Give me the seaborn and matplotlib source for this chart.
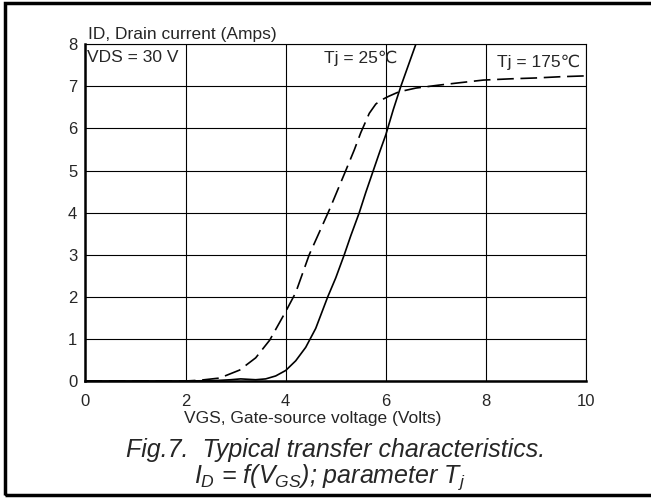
import matplotlib
matplotlib.use("Agg")
import matplotlib.pyplot as plt
import numpy as np
import pandas as pd
import seaborn as sns
from matplotlib.patches import Rectangle

# curve: Tj = 25 C (solid)
vgs_25 = [0, 1, 2, 2.6, 2.9, 3.1, 3.25, 3.4, 3.6, 3.8, 4.0, 4.2, 4.4, 4.6,
          4.84, 5.0, 5.17, 5.3, 5.47, 5.6, 5.75, 5.88, 6.0, 6.15, 6.3, 6.45, 6.6, 6.66]
id_25 = [0, 0, 0, 0.01, 0.03, 0.05, 0.04, 0.03, 0.05, 0.12, 0.25, 0.48, 0.8, 1.25,
         2.0, 2.45, 3.0, 3.45, 4.0, 4.48, 5.0, 5.45, 5.85, 6.45, 7.0, 7.5, 8.0, 8.2]

# Tj = 175 C (dashed)
vgs_175 = [0, 1, 2, 2.3, 2.68, 3.08, 3.4, 3.68, 4.0, 4.2, 4.47, 4.87, 5.2, 5.37,
           5.5, 5.67, 5.8, 5.9, 6.05, 6.26, 6.6, 7.06, 7.5, 7.95, 8.5, 9.0, 9.5, 10]
id_175 = [0, 0, 0, 0.02, 0.07, 0.26, 0.55, 0.97, 1.65, 2.1, 3.0, 4.06, 5.0, 5.49,
          5.9, 6.36, 6.58, 6.67, 6.76, 6.87, 6.96, 7.03, 7.09, 7.15, 7.18, 7.2, 7.23, 7.25]

x_ticks = [0, 2, 4, 6, 8, 10]
y_ticks = [0, 1, 2, 3, 4, 5, 6, 7, 8]

sns.set_style("white")
plt.rcParams['font.family'] = ['Liberation Sans', 'DejaVu Sans']
plt.rcParams['mathtext.fontset'] = 'custom'
plt.rcParams['mathtext.it'] = 'Liberation Sans:italic'
plt.rcParams['mathtext.rm'] = 'Liberation Sans:italic'

df25 = pd.DataFrame({'VGS': vgs_25, 'ID': id_25})
df175 = pd.DataFrame({'VGS': vgs_175, 'ID': id_175})

W, H = 651, 498
fig = plt.figure(figsize=(W/100, H/100), dpi=100)
ax = fig.add_axes([85.5/W, 1-381/H, (586-85.5)/W, (381-44.3)/H])

sns.lineplot(data=df25, x='VGS', y='ID', ax=ax, color='black', lw=1.2,
             sort=False, estimator=None)
sns.lineplot(data=df175, x='VGS', y='ID', ax=ax, color='black', lw=1.2,
             sort=False, estimator=None, linestyle=(0, (10, 4)))

ax.set_xlim(0, 10)
ax.set_ylim(0, 8)
ax.set_xticks(x_ticks)
ax.set_yticks(y_ticks)
ax.grid(True, color='black', lw=0.8)
ax.tick_params(length=0, labelsize=12)
ax.tick_params(axis='x', pad=9)
ax.tick_params(axis='y', pad=6)
ax.set_xlabel('')
ax.set_ylabel('')
for s in ax.spines.values():
    s.set_color('black')
    s.set_linewidth(0.8)
ax.spines['left'].set_linewidth(1.8)
ax.spines['bottom'].set_linewidth(1.8)

ax.text(0.03, 7.68, 'VDS = 30 V', fontsize=12.5, va='center', ha='left')
ax.text(4.77, 7.66, 'Tj = 25\u2103', fontsize=12.5, va='center', ha='left')
ax.text(8.22, 7.58, 'Tj = 175\u2103', fontsize=12.5, va='center', ha='left')

fig.text(88/W, 1-39/H, 'ID, Drain current (Amps)', fontsize=12.5, ha='left', va='baseline')
fig.text(313/W, 1-423/H, 'VGS, Gate-source voltage (Volts)', fontsize=12.5,
         ha='center', va='baseline')
fig.text(336/W, 1-457/H, 'Fig.7.  Typical transfer characteristics.', fontsize=18,
         style='italic', ha='center', va='baseline')
fig.text(330/W, 1-483/H, r'$I_D$ = f($V_{GS}$); parameter $T_j$', fontsize=18,
         style='italic', ha='center', va='baseline')

fig.patches.append(Rectangle((4.5/W, 3/H), 700/W, (495-3)/H, transform=fig.transFigure,
                             fill=False, lw=2.5, edgecolor='black', figure=fig))

fig.savefig('out.png', dpi=100)
